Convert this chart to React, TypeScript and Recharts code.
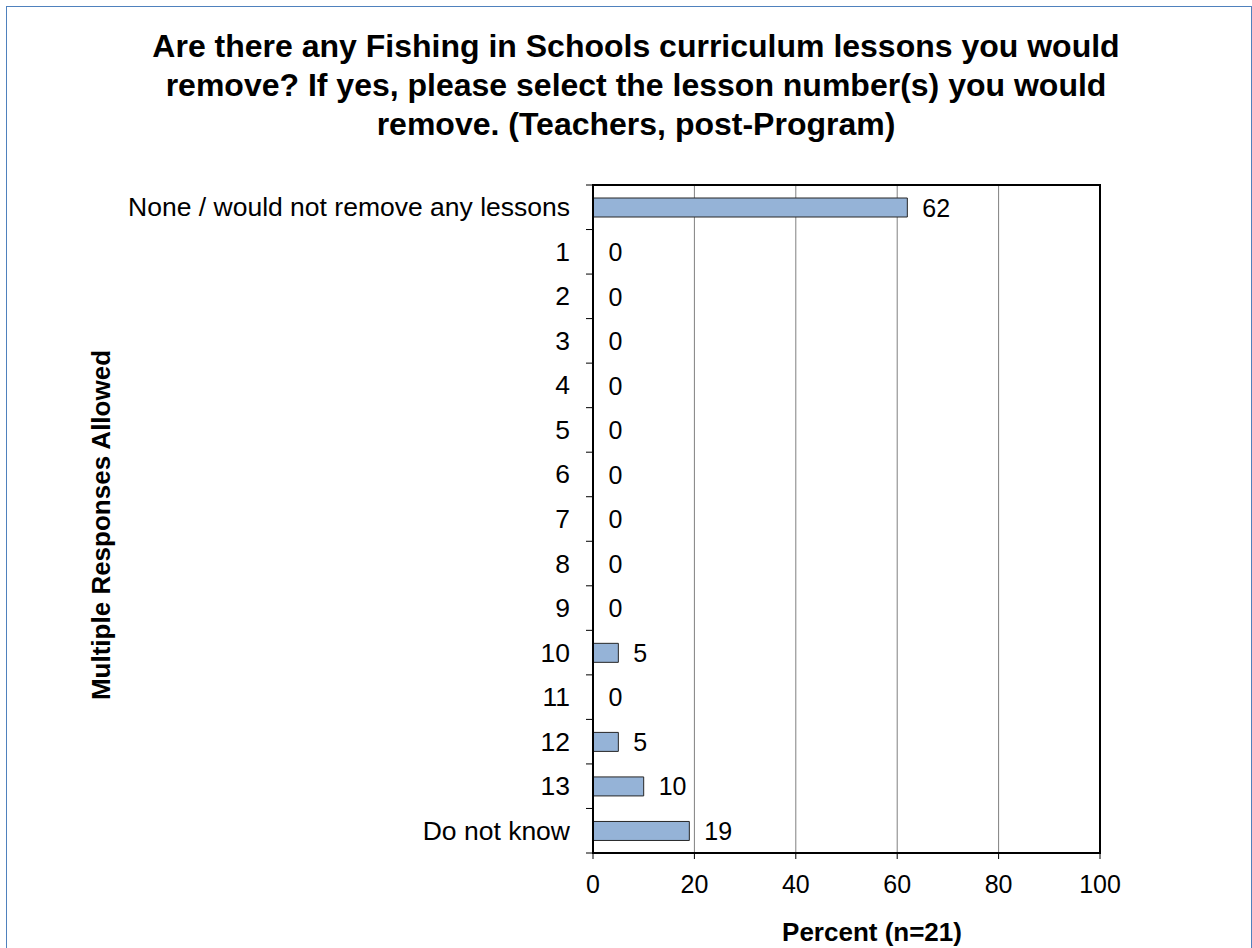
import React from "react";
import {
  BarChart,
  Bar,
  XAxis,
  YAxis,
  CartesianGrid,
  LabelList,
  ReferenceArea,
} from "recharts";

const categories = [
  "None / would not remove any lessons",
  "1",
  "2",
  "3",
  "4",
  "5",
  "6",
  "7",
  "8",
  "9",
  "10",
  "11",
  "12",
  "13",
  "Do not know",
];
const percents = [62, 0, 0, 0, 0, 0, 0, 0, 0, 0, 5, 0, 5, 10, 19];
const xTicks = [0, 20, 40, 60, 80, 100];

const titleLines = [
  "Are there any Fishing in Schools curriculum lessons you would",
  "remove? If yes, please select the lesson number(s) you would",
  "remove. (Teachers, post-Program)",
];

const rows = categories.map((name, i) => ({ name, value: percents[i] }));

const W = 1252;
const H = 948;
const PLOT_TOP = 185;
const PLOT_BOTTOM = 853;
const BAND = (PLOT_BOTTOM - PLOT_TOP) / categories.length;
const FONT = "'Liberation Sans', Arial, sans-serif";

// category label + boundary tick marks on the left of the axis
function CatTick(props: any) {
  const { x, y, payload, index } = props;
  const ax = x + 23;
  return (
    <g>
      <text
        x={x}
        y={y}
        dy={9}
        textAnchor="end"
        fontSize={26.5}
        fontFamily={FONT}
        fill="#000"
      >
        {payload.value}
      </text>
      <line x1={ax - 7} x2={ax} y1={y - BAND / 2} y2={y - BAND / 2} stroke="#000" />
      {index === categories.length - 1 && (
        <line x1={ax - 7} x2={ax} y1={y + BAND / 2} y2={y + BAND / 2} stroke="#000" />
      )}
    </g>
  );
}

// value label to the right of each bar (zero bars included)
function ValueLabel(props: any) {
  const { x, y, width, height, value } = props;
  return (
    <text
      x={x + width + 15}
      y={y + height / 2}
      dy={9}
      textAnchor="start"
      fontSize={25}
      fontFamily={FONT}
      fill="#000"
    >
      {value}
    </text>
  );
}

export default function App() {
  return (
    <div
      style={{
        position: "fixed",
        left: 0,
        top: 0,
        width: W,
        height: H,
        background: "#fff",
        fontFamily: FONT,
      }}
    >
      <div
        style={{
          position: "absolute",
          left: 6,
          top: 6,
          width: W - 8,
          height: H + 10,
          border: "1px solid #4f81bd",
        }}
      />
      <div
        style={{
          position: "absolute",
          left: 111,
          top: 27,
          width: 1050,
          textAlign: "center",
          fontWeight: "bold",
          fontSize: 32,
          lineHeight: "39px",
          color: "#000",
        }}
      >
        {titleLines.map((l) => (
          <div key={l}>{l}</div>
        ))}
      </div>
      <div
        style={{
          position: "absolute",
          left: 101 - 250,
          top: 525 - 15,
          width: 500,
          height: 30,
          lineHeight: "30px",
          textAlign: "center",
          fontWeight: "bold",
          fontSize: 26,
          transform: "rotate(-90deg)",
        }}
      >
        Multiple Responses Allowed
      </div>
      <div
        style={{
          position: "absolute",
          left: 872 - 150,
          top: 917,
          width: 300,
          textAlign: "center",
          fontWeight: "bold",
          fontSize: 26,
          lineHeight: "30px",
        }}
      >
        Percent (n=21)
      </div>
      <div style={{ position: "absolute", left: 0, top: 0 }}>
        <BarChart
          width={W}
          height={H}
          data={rows}
          layout="vertical"
          barSize={19}
          margin={{ top: PLOT_TOP, right: 152, bottom: 35, left: 443 }}
        >
          <CartesianGrid horizontal={false} stroke="#808080" strokeWidth={1} />
          <Bar
            dataKey="value"
            fill="#95b3d7"
            stroke="#262626"
            strokeWidth={1}
            minPointSize={0.5}
            isAnimationActive={false}
          >
            <LabelList dataKey="value" content={<ValueLabel />} />
          </Bar>
          <XAxis
            type="number"
            domain={[0, 100]}
            ticks={xTicks}
            height={60}
            tickSize={6}
            tickMargin={16}
            axisLine={{ stroke: "#000", strokeWidth: 2 }}
            tickLine={{ stroke: "#000" }}
            tick={{ fill: "#000", fontSize: 25, fontFamily: FONT }}
          />
          <YAxis
            type="category"
            dataKey="name"
            width={150}
            interval={0}
            tickSize={0}
            tickMargin={23}
            axisLine={{ stroke: "#000", strokeWidth: 2 }}
            tickLine={false}
            tick={<CatTick />}
          />
          <ReferenceArea
            x1={0}
            x2={100}
            fill="none"
            fillOpacity={0}
            stroke="#000"
            strokeWidth={2}
            ifOverflow="visible"
          />
        </BarChart>
      </div>
    </div>
  );
}
